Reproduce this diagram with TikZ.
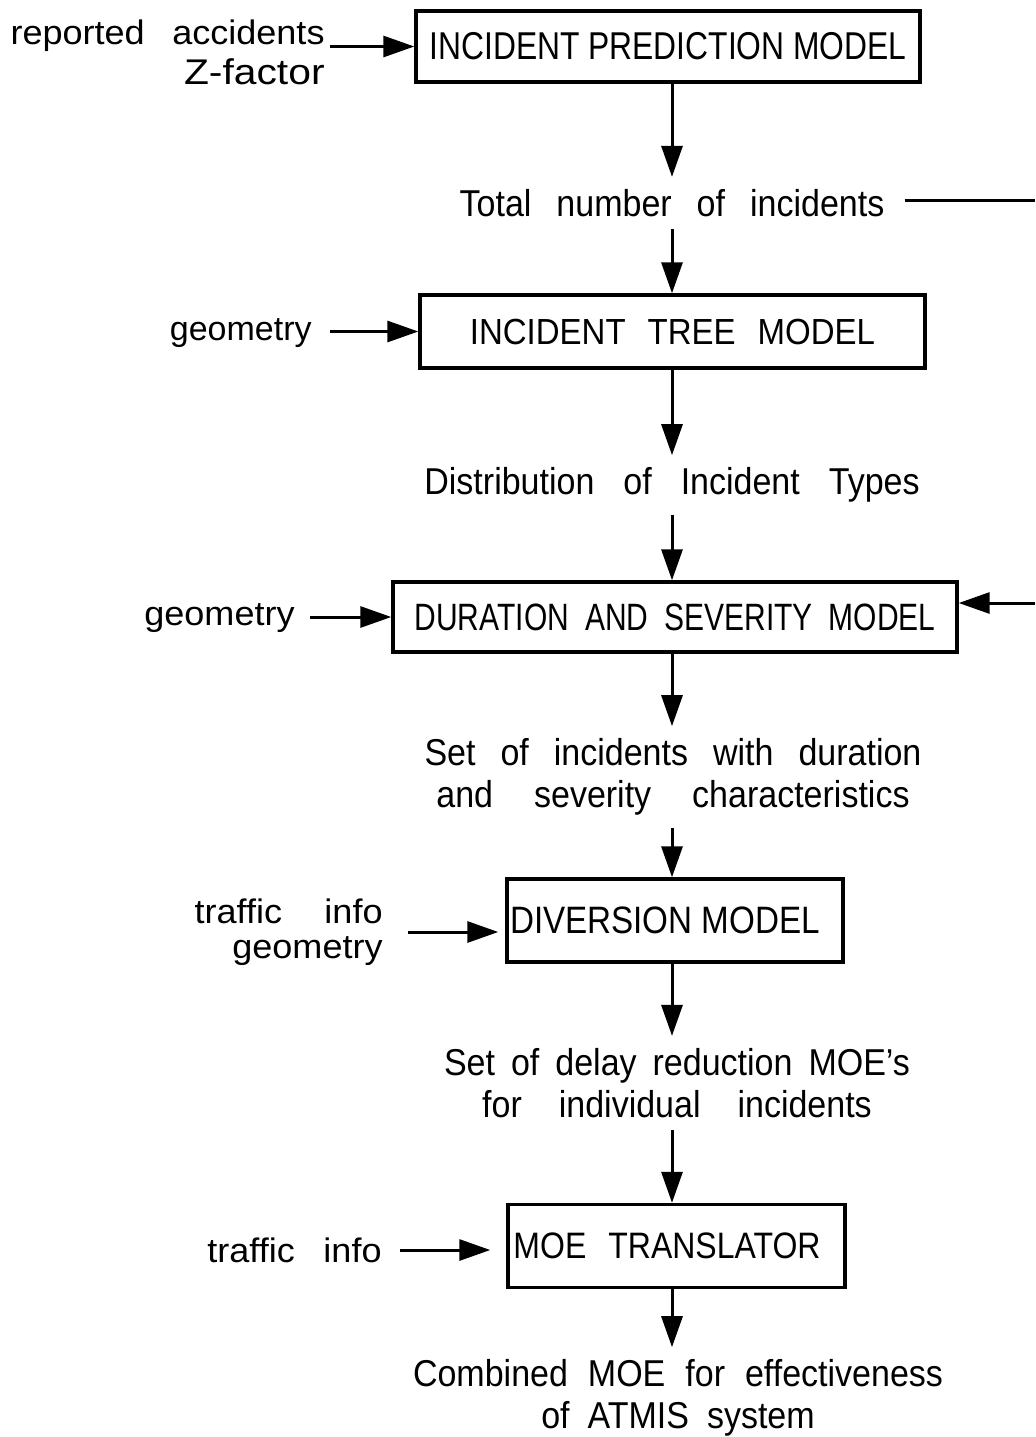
\documentclass[tikz,border=0pt]{standalone}
\usepackage{fontspec}
\setmainfont{Liberation Sans}
\usetikzlibrary{arrows.meta}
% lettering of the flow texts is a little taller than wide; the inputs a little wider
\newcommand\tallbox[2][1.1]{\scalebox{1}[#1]{#2}}
\newcommand\widebox[2][1.06]{\scalebox{#1}[1]{#2}}
\newcommand\wordgap[1]{\spaceskip #1\relax}

\begin{document}
\begin{tikzpicture}[x=0.5pt,y=-0.5pt,
  flow/.style={line width=1.5pt,-{Triangle[length=15.5pt,width=10.5pt]}},
  plain/.style={line width=1.5pt},
  model/.style={draw,line width=1.7pt,inner sep=0pt,
    font={\fontsize{15.9}{19}\selectfont}},
  quantity/.style={align=center,inner xsep=6pt,inner ysep=6pt,
    font={\fontsize{17}{21}\selectfont\wordgap{12.5pt}}},
  input/.style={align=right,inner sep=0pt,anchor=east,
    font={\fontsize{17}{19.5}\selectfont\wordgap{13pt}}}]

\fill[white] (0,0) rectangle (1035,1437);
\useasboundingbox (0,0) rectangle (1035,1437);

% vertical spine carrying the main flow
\coordinate (spine) at (672,0);

% models
\node[model, minimum width=252pt, minimum height=35.5pt] (pm) at (668,46.5)
  {\tallbox[1.22]{INCIDENT PREDICTION MODEL}};
\node[model, minimum width=252.5pt, minimum height=36.5pt,
  font={\fontsize{16.5}{19}\selectfont\wordgap{11pt}}] (tree) at (672.5,331.5)
  {\tallbox[1.1]{INCIDENT TREE MODEL}};
\node[model, minimum width=282pt, minimum height=35pt,
  font={\fontsize{15}{19}\selectfont\wordgap{8pt}}] (dur) at (675,617)
  {\tallbox[1.27]{DURATION AND SEVERITY MODEL}};
\node[model, minimum width=168pt, minimum height=41.5pt,
  font={\fontsize{16.6}{19}\selectfont}] (div) at (675,920.5)
  {\tallbox[1.15]{DIVERSION MODEL}\rule{10pt}{0pt}};
\node[model, minimum width=168.5pt, minimum height=41.5pt,
  font={\fontsize{16}{19}\selectfont\wordgap{11pt}}] (moe) at (676.5,1246)
  {\tallbox[1.15]{MOE TRANSLATOR}\rule{9.5pt}{0pt}};

% intermediate quantities
\node[quantity] (tot) at (672,203) {\tallbox{Total number of incidents}};
\node[quantity] (dist) at (672,485)
  {\tallbox{\wordgap{14.5pt}Distribution of Incident Types}};
\node[quantity] (set) at (673,777)
  {\tallbox{Set of incidents with duration}\\
   \tallbox{\wordgap{20.5pt}and severity characteristics}};
\node[quantity] (delay) at (677,1083)
  {\tallbox{\wordgap{8pt}Set of delay reduction MOE’s}\\
   \tallbox{\wordgap{18.5pt}for individual incidents}};
\node[quantity] (comb) at (678,1398)
  {\tallbox{\wordgap{10pt}Combined MOE for effectiveness}\\
   \tallbox{\wordgap{9pt}of ATMIS system}};

% external inputs
\node[input, font={\fontsize{17}{20}\selectfont\wordgap{13pt}}] (rep) at (325,52)
  {\widebox{reported accidents}\\\scalebox{1.2}[1.05]{Z-factor}};
\node[input] (geoA) at (312,333) {\widebox[1.0]{geometry}};
\node[input] (geoB) at (295,618) {\widebox{geometry}};
\node[input, font={\fontsize{17}{17.5}\selectfont\wordgap{20pt}}] (trfA) at (383,932)
  {\widebox{traffic info}\\\widebox{geometry}};
\node[input, font={\fontsize{17}{19.5}\selectfont\wordgap{13.5pt}}] (trfB) at (382,1250)
  {\widebox{traffic info}};

% main flow
\draw[flow] (pm.south -| spine) -- (tot.north -| spine);
\draw[flow] (tot.south -| spine) -- (tree.north -| spine);
\draw[flow] (tree.south -| spine) -- (dist.north -| spine);
\draw[flow] (dist.south -| spine) -- (dur.north -| spine);
\draw[flow] (dur.south -| spine) -- (set.north -| spine);
\draw[flow] (set.south -| spine) -- (div.north -| spine);
\draw[flow] (div.south -| spine) -- (delay.north -| spine);
\draw[flow] (delay.south -| spine) -- (moe.north -| spine);
\draw[flow] (moe.south -| spine) -- (comb.north -| spine);

% inputs into the models
\draw[flow, shorten <=2.5pt] (rep.east |- pm.west) -- (pm.west);
\draw[flow, shorten <=9pt] (geoA.east |- tree.west) -- (tree.west);
\draw[flow, shorten <=7.5pt] (geoB.east |- dur.west) -- (dur.west);
\draw[flow, shorten <=12.5pt, shorten >=3.5pt] (trfA.east) -- (trfA.east -| div.west);
\draw[flow, shorten <=9pt, shorten >=8pt] (trfB.east) -- (trfB.east -| moe.west);

% incident count fed round the right edge into the duration model
\coordinate (exitR) at (1035,200);
\coordinate (backR) at (1035,603);
\draw[plain, shorten <=4pt] (tot.east |- exitR) -- (exitR);
\draw[flow] (backR) -- (backR -| dur.east);
\end{tikzpicture}
\end{document}
